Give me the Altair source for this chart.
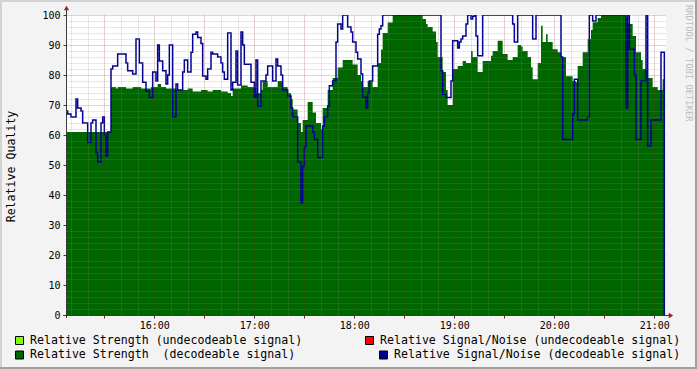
import altair as alt
import pandas as pd

# ---- data (time of step start, value) ----
strength_time = ["15:07","15:34","15:37","15:38","15:43","15:47","15:52","15:58","16:02","16:04",
                 "16:07","16:13","16:20","16:23","16:28","16:32","16:35","16:40","16:44","16:46",
                 "16:47","16:52","16:56","17:01","17:04","17:05","17:08","17:14","17:17","17:20",
                 "17:22","17:23","17:26","17:28","17:29","17:32","17:35","17:37","17:40","17:41",
                 "17:44","17:47","17:50","17:53","17:59","18:02","18:04","18:05","18:08","18:11",
                 "18:14","18:16","18:17","18:20","18:23","18:41","18:43","18:44","18:47","18:49",
                 "18:50","18:53","18:55","18:56","18:59","19:02","19:05","19:07","19:10","19:11",
                 "19:14","19:17","19:22","19:23","19:26","19:29","19:32","19:35","19:38","19:40",
                 "19:41","19:44","19:46","19:47","19:50","19:52","19:53","19:55","19:56","19:59",
                 "20:02","20:04","20:07","20:11","20:13","20:14","20:17","20:20","20:22","20:23",
                 "20:26","20:28","20:43","20:44","20:47","20:49","20:52","20:53","20:56","20:59",
                 "21:02","21:05","21:06"]
strength_val = [61, 76, 75.5, 76, 75.5, 76, 75.5, 76, 77, 76,
                75.5, 75, 75.5, 74.5, 75, 74.5, 75, 74.5, 74, 73,
                75.5, 76.5, 76, 74, 75, 78, 76, 78, 76, 74,
                72, 68.5, 64, 61, 65, 71, 67.5, 64, 62, 69,
                75, 79, 82.5, 85, 83.5, 80, 78, 76, 78, 76,
                84, 88.5, 94, 97.5, 100, 98.7, 97, 96, 94.5, 91,
                86, 81, 75, 70, 82, 83, 84.7, 84, 88, 86,
                81, 84.7, 86.4, 88, 91.4, 87, 85, 86, 90, 89.5,
                88, 86, 82.6, 78.6, 84, 96.4, 91, 93.6, 91, 88.6,
                87.6, 86, 79.6, 78, 77.6, 83, 87.6, 92, 95, 97.6,
                99, 100, 99, 97, 93, 87.6, 85, 82, 79, 76,
                75, 78.6, 78.6]

snr_time = ["15:07","15:08","15:10","15:13","15:14","15:16","15:17","15:20","15:22","15:23",
            "15:25","15:26","15:28","15:29","15:30","15:31","15:32","15:34","15:35","15:38",
            "15:43","15:44","15:47","15:49","15:51","15:53","15:55","15:57","15:59","16:01",
            "16:02","16:03","16:05","16:07","16:08","16:09","16:11","16:13","16:14","16:17",
            "16:18","16:20","16:22","16:23","16:25","16:26","16:28","16:29","16:31","16:32",
            "16:34","16:35","16:38","16:40","16:41","16:42","16:44","16:46","16:47","16:49",
            "16:50","16:52","16:53","16:54","16:58","17:00","17:01","17:02","17:04","17:07",
            "17:08","17:11","17:13","17:14","17:16","17:17","17:20","17:22","17:23","17:26",
            "17:28","17:29","17:30","17:31","17:35","17:36","17:38","17:41","17:42","17:44",
            "17:45","17:47","17:49","17:50","17:52","17:53","17:56","17:58","17:59","18:01",
            "18:02","18:04","18:05","18:07","18:08","18:09","18:11","18:14","18:15","18:16",
            "18:17","18:52","18:53","18:55","18:58","18:59","19:02","19:03","19:04","19:05",
            "19:07","19:08","19:10","19:11","19:12","19:13","19:14","19:17","19:35","19:36",
            "19:38","19:47","19:49","20:04","20:05","20:11","20:12","20:14","20:20","20:21",
            "20:23","20:25","20:43","20:44","20:45","20:48","20:49","20:52","20:55","20:56",
            "20:58","21:04","21:06"]
snr_val = [68, 67, 66, 72, 69, 68, 64, 57.5, 64, 65,
           54, 51, 64, 66, 60, 53, 61, 82, 83, 87,
           84, 81.4, 80.3, 92, 84, 77.6, 74.6, 72.5, 81, 78,
           90, 84.7, 81.4, 77, 80, 90, 66, 77, 75, 81,
           85, 81, 87.6, 93.6, 94.3, 92.5, 90.5, 79.7, 78.6, 82,
           87.6, 87, 86, 84, 81, 78.6, 94, 75, 77.6, 88,
           76.7, 94.3, 90, 83.6, 77.6, 72.6, 85, 69.6, 78, 80,
           83, 78, 85.3, 83, 80, 75, 73, 69, 66, 51,
           37.4, 49.6, 56, 63, 61, 58.5, 52.5, 63, 66, 69.7,
           76.4, 78, 91, 97, 95.3, 100, 96, 94.3, 91, 87.6,
           85.3, 80.3, 72.6, 69, 74, 78, 83, 93.6, 95.3, 96.4,
           100, 81.4, 73.6, 72.5, 78, 91.4, 89, 91, 92, 93,
           97, 100, 98.7, 99.6, 100, 93, 86.4, 100, 97, 91,
           100, 92, 100, 86, 58.5, 67, 78.6, 65, 66, 100,
           98, 100, 69, 100, 88.6, 80, 58.5, 78, 100, 56.3,
           65, 87.6, 0]

legend_labels = ["Relative Strength (undecodeable signal)",
                 "Relative Strength \u00a0(decodeable signal)",
                 "Relative Signal/Noise (undecodeable signal)",
                 "Relative Signal/Noise (decodeable signal)"]
legend_colors = ["#80FF00", "#006600", "#FF0000", "#00008F"]
watermark = "RRDTOOL / TOBI OETIKER"
y_title = "Relative Quality"

assert len(strength_time) == len(strength_val)
assert len(snr_time) == len(snr_val)


def minutes(hhmm):
    h, m = hhmm.split(":")
    return (int(h) - 15) * 60 + int(m)


strength_df = pd.DataFrame({"t": [minutes(s) for s in strength_time], "v": strength_val})
snr_df = pd.DataFrame({"t": [minutes(s) for s in snr_time], "v": snr_val})
one = pd.DataFrame({"k": [0]})

FONT = "DejaVu Sans Mono"
MGRID = "#821E1E"
GRID = "#8C8C8C"
AXIS = "#3A3A3A"

xscale = alt.Scale(domain=[7, 367], nice=False, zero=False)
yscale = alt.Scale(domain=[0, 100], nice=False)

x_axis = alt.Axis(
    values=list(range(10, 361, 10)),
    grid=True,
    gridColor={"condition": {"test": "datum.value % 30 == 0", "value": MGRID}, "value": GRID},
    gridOpacity=0.4,
    gridDash=[1, 1],
    domain=False,
    tickSize=3,
    tickColor={"condition": {"test": "datum.value % 60 == 0", "value": AXIS}, "value": MGRID},
    tickOpacity={"condition": {"test": "datum.value % 30 == 0", "value": 1}, "value": 0},
    labelExpr="datum.value % 60 == 0 ? (15 + datum.value / 60) + ':00' : ''",
    labelFont=FONT, labelFontSize=10, labelColor="#000000", labelPadding=2,
    labelOverlap=False, labelFlush=False,
    title=None,
    zindex=1,
)
y_axis = alt.Axis(
    values=list(range(0, 101, 2)),
    grid=True,
    gridColor={"condition": {"test": "datum.value % 10 == 0", "value": MGRID}, "value": GRID},
    gridOpacity=0.4,
    gridDash=[1, 1],
    domain=False,
    tickSize=3,
    tickColor=AXIS,
    tickOpacity={"condition": {"test": "datum.value % 10 == 0", "value": 1}, "value": 0},
    labelExpr="datum.value % 10 == 0 ? datum.label : ''",
    labelFont=FONT, labelFontSize=10, labelColor="#000000", labelPadding=3,
    labelOverlap=False, labelFlush=False,
    title=y_title, titleFont=FONT, titleFontSize=11.6, titleFontWeight="normal",
    titleColor="#000000", titleX=-55, titleY=151, titleAngle=270,
    titleAlign="center", titleBaseline="middle",
    zindex=1,
)

area = alt.Chart(strength_df).mark_area(
    interpolate="step-after", color="#006600", opacity=1, clip=True
).encode(
    x=alt.X("t:Q", scale=xscale, axis=x_axis),
    y=alt.Y("v:Q", scale=yscale, axis=y_axis),
)
line = alt.Chart(snr_df).mark_line(
    interpolate="step-after", color="#00008F", strokeWidth=1.5, clip=True
).encode(
    x=alt.X("t:Q", scale=xscale, axis=x_axis),
    y=alt.Y("v:Q", scale=yscale, axis=y_axis),
)


def hrule(x1, x2, y, color, w):
    return alt.Chart(one).mark_rule(color=color, strokeWidth=w).encode(
        x=alt.value(x1), x2=alt.value(x2), y=alt.value(y))


def vrule(x, y1, y2, color, w):
    return alt.Chart(one).mark_rule(color=color, strokeWidth=w).encode(
        x=alt.value(x), y=alt.value(y1), y2=alt.value(y2))


def arrow(x, y, shape):
    return alt.Chart(one).mark_point(shape=shape, filled=True, size=28, color="#962323", opacity=1).encode(
        x=alt.value(x), y=alt.value(y))


def square(x, y, color):
    return alt.Chart(one).mark_square(size=64, fill=color, stroke="#000000", strokeWidth=1, opacity=1).encode(
        x=alt.value(x), y=alt.value(y))


def label(x, y, text):
    return alt.Chart(one).mark_text(text=text, align="left", baseline="middle", font=FONT,
                                    fontSize=11.6, color="#000000").encode(
        x=alt.value(x), y=alt.value(y))


frame = [
    hrule(-66, 631, -14, "#D2D2D2", 2),
    vrule(-65, -15, 354, "#D2D2D2", 2),
    hrule(-66, 631, 353, "#A0A0A0", 2),
    vrule(630, -15, 354, "#A0A0A0", 2),
]
axes = [
    vrule(0.5, -7, 303, AXIS, 1),
    hrule(-3, 604, 300.5, AXIS, 1),
    arrow(0.5, -7, "triangle-up"),
    arrow(605, 300.5, "triangle-right"),
]
legend = [
    square(-46.5, 325.5, legend_colors[0]), label(-36, 325.5, legend_labels[0]),
    square(-46.5, 340, legend_colors[1]), label(-36, 340, legend_labels[1]),
    square(303.5, 325.5, legend_colors[2]), label(314, 325.5, legend_labels[2]),
    square(317.5, 340, legend_colors[3]), label(328, 340, legend_labels[3]),
]
wm = alt.Chart(one).mark_text(text=watermark, angle=90, align="left", baseline="middle",
                              font=FONT, fontSize=8.8, color="#BDBDBD").encode(
    x=alt.value(623), y=alt.value(-10))

chart = alt.layer(*frame, area, line, *axes, *legend, wm).properties(
    width=600, height=300,
    padding={"left": 66, "top": 15, "right": 31, "bottom": 54},
    autosize=alt.AutoSizeParams(type="none"),
    background="#F3F3F3",
).configure_view(fill="#FFFFFF", strokeWidth=0)

chart.save("out.html", embed_options={"renderer": "svg", "actions": False})
